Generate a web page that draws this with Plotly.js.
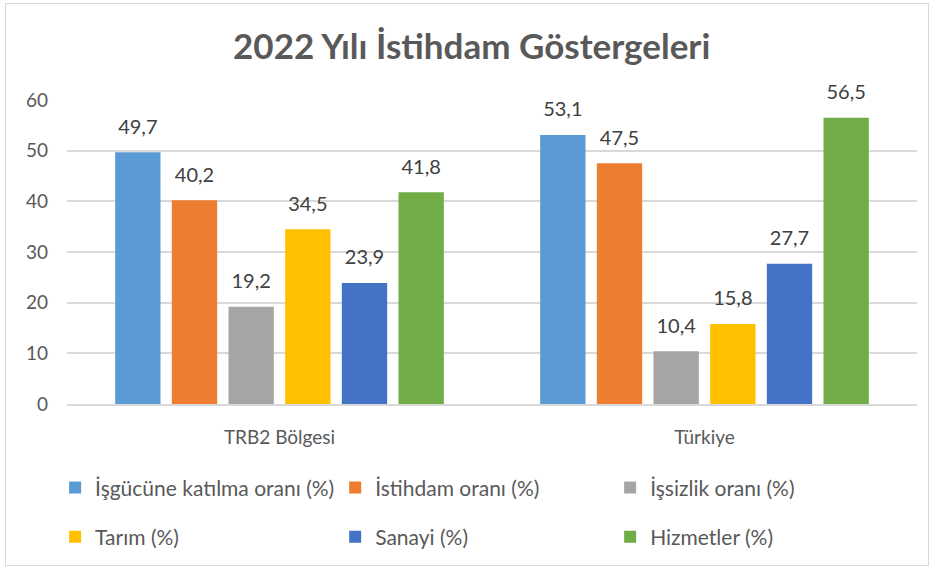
<!DOCTYPE html>
<html>
<head>
<meta charset="utf-8">
<script src="https://cdn.plot.ly/plotly-3.0.1.min.js"></script>
<style>
  html, body { margin: 0; padding: 0; background: #ffffff; }
  #wrap { position: relative; width: 934px; height: 569px; }
  #chart { position: absolute; left: 0; top: 0; width: 934px; height: 569px; }
  #frame { position: absolute; left: 5px; top: 3px; width: 922px; height: 561px; border: 1px solid #d9d9d9; pointer-events: none; }
</style>
</head>
<body>
<div id="wrap">
  <div id="chart"></div>
  <div id="frame"></div>
</div>
<script>
const categories = ["TRB2 Bölgesi", "Türkiye"];
const seriesNames = ["İşgücüne katılma oranı (%)", "İstihdam oranı (%)", "İşsizlik oranı (%)", "Tarım (%)", "Sanayi (%)", "Hizmetler (%)"];
const isgucu = [49.7, 53.1];
const istihdam = [40.2, 47.5];
const issizlik = [19.2, 10.4];
const tarim = [34.5, 15.8];
const sanayi = [23.9, 27.7];
const hizmetler = [41.8, 56.5];
const yTicks = [0, 10, 20, 30, 40, 50, 60];
const colors = ["#5B9BD5", "#ED7D31", "#A5A5A5", "#FFC000", "#4472C4", "#70AD47"];

const FONT = "Lato, 'Open Sans', sans-serif";
const allValues = [isgucu, istihdam, issizlik, tarim, sanayi, hizmetler];
// legend column for each series (3 columns x 2 rows, row-major like the original)
const legendIds = ["legend", "legend2", "legend3", "legend", "legend2", "legend3"];

const barTraces = allValues.map((vals, i) => ({
  type: "bar",
  name: seriesNames[i],
  x: categories,
  y: vals,
  offsetgroup: "g" + i,
  legend: legendIds[i],
  legendgroup: "lg" + i,
  marker: { color: colors[i] },
  hoverinfo: "x+y+name"
}));

const labelTraces = allValues.map((vals, i) => ({
  type: "scatter",
  mode: "markers+text",
  x: categories,
  y: vals,
  offsetgroup: "g" + i,
  showlegend: false,
  marker: { size: 20, opacity: 0, color: colors[i] },
  text: vals.map(v => v.toFixed(1).replace(".", ",")),
  textposition: "top center",
  textfont: { family: FONT, size: 20, color: "#404040" },
  cliponaxis: false,
  hoverinfo: "skip"
}));

const legendBase = {
  orientation: "v",
  yanchor: "top",
  y: -0.208,
  xanchor: "left",
  font: { family: FONT, size: 21, color: "#595959" },
  itemwidth: 30,
  tracegroupgap: 19,
  bgcolor: "rgba(0,0,0,0)"
};

const layout = {
  width: 934,
  height: 569,
  margin: { l: 67, r: 17, t: 100, b: 162 },
  paper_bgcolor: "#ffffff",
  plot_bgcolor: "#ffffff",
  font: { family: FONT, color: "#595959", size: 16 },
  title: {
    text: "<b>2022 Yılı İstihdam Göstergeleri</b>",
    font: { family: FONT, size: 35, color: "#595959" },
    x: 0.505, xanchor: "center",
    y: 0.918, yanchor: "middle"
  },
  barmode: "group",
  bargap: 0.2,
  bargroupgap: 0.2,
  scattermode: "group",
  scattergap: 0.2,
  separators: ",.",
  xaxis: {
    type: "category",
    showgrid: false,
    showline: true,
    linecolor: "#d9d9d9",
    linewidth: 1.5,
    ticks: "",
    tickfont: { family: FONT, size: 19, color: "#595959" },
    ticklabelstandoff: 15
  },
  yaxis: {
    range: [0, 60],
    tickvals: yTicks,
    showgrid: true,
    gridcolor: "#d9d9d9",
    gridwidth: 1.5,
    zeroline: false,
    showline: false,
    ticks: "",
    tickfont: { family: FONT, size: 19, color: "#595959" },
    ticklabelstandoff: 18
  },
  legend: Object.assign({}, legendBase, { x: -0.014 }),
  legend2: Object.assign({}, legendBase, { x: 0.3155 }),
  legend3: Object.assign({}, legendBase, { x: 0.639 }),
  showlegend: true
};

Plotly.newPlot("chart", barTraces.concat(labelTraces), layout, { displayModeBar: false, responsive: false });
</script>
</body>
</html>
